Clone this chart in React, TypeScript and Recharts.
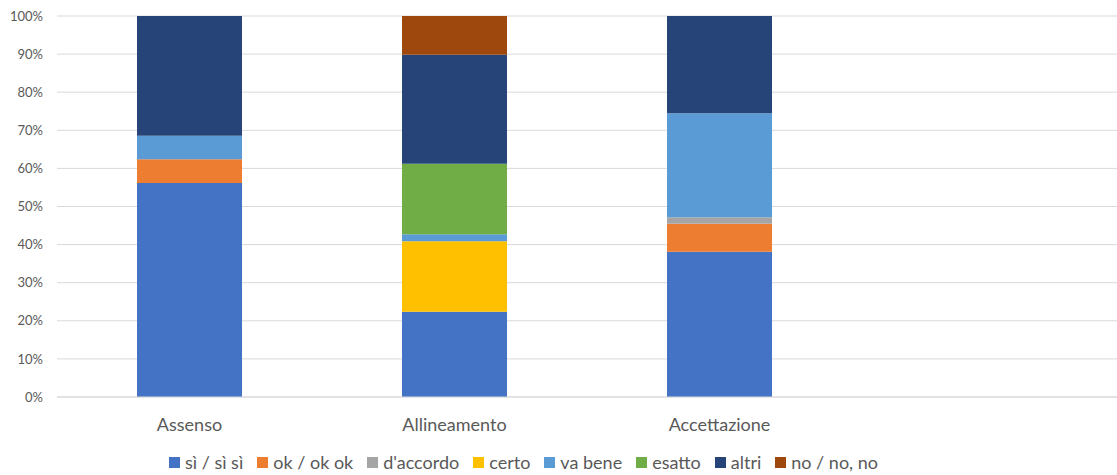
import React from 'react';
import { BarChart, Bar, XAxis, YAxis, CartesianGrid, Legend } from 'recharts';

// categories (the fourth slot is empty in the original chart)
const categories = ['Assenso', 'Allineamento', 'Accettazione', ''];

// series names, bottom to top of each stack
const seriesNames = ['sì / sì sì', 'ok / ok ok', "d'accordo", 'certo', 'va bene', 'esatto', 'altri', 'no / no, no'];

// percentage values per series, one per category
const siValues = [56.2, 22.4, 38.1, null];
const okValues = [6.2, 0, 7.4, null];
const accordoValues = [0, 0, 1.7, null];
const certoValues = [0, 18.5, 0, null];
const vaBeneValues = [6.2, 1.8, 27.3, null];
const esattoValues = [0, 18.5, 0, null];
const altriValues = [31.4, 28.6, 25.5, null];
const noValues = [0, 10.2, 0, null];

const yTicks = [0, 10, 20, 30, 40, 50, 60, 70, 80, 90, 100];

const seriesValues = [siValues, okValues, accordoValues, certoValues, vaBeneValues, esattoValues, altriValues, noValues];
const colors = ['#4472C4', '#ED7D31', '#A5A5A5', '#FFC000', '#5B9BD5', '#70AD47', '#264478', '#9E480E'];

const data = categories.map((name, i) => {
  const row: { [key: string]: string | number | null } = { name };
  seriesNames.forEach((s, j) => {
    row[s] = seriesValues[j][i];
  });
  return row;
});

const FONT = 'Lato, sans-serif';

// legend drawn as one centred row, like the original
const renderLegend = () => (
  <div
    style={{
      display: 'flex',
      justifyContent: 'center',
      alignItems: 'center',
      fontFamily: FONT,
      fontSize: 18,
      color: '#595959',
      paddingTop: 14,
      paddingRight: 70,
    }}
  >
    {seriesNames.map((s, i) => (
      <span key={s} style={{ display: 'flex', alignItems: 'center', marginRight: i < seriesNames.length - 1 ? 14 : 0 }}>
        <span style={{ width: 11, height: 11, background: colors[i], display: 'inline-block', marginRight: 5 }} />
        {s}
      </span>
    ))}
  </div>
);

const App: React.FC = () => {
  return (
    <div style={{ position: 'absolute', left: 0, top: 0 }}>
      <BarChart
        width={1117}
        height={475}
        data={data}
        margin={{ top: 16, right: 0, left: 0, bottom: 0 }}
        barSize={105}
      >
        <CartesianGrid vertical={false} stroke="#D9D9D9" />
        <XAxis
          dataKey="name"
          height={40}
          axisLine={{ stroke: '#D9D9D9' }}
          tickLine={false}
          tickMargin={15}
          tick={{ fill: '#595959', fontSize: 18, fontFamily: FONT }}
        />
        <YAxis
          width={57}
          domain={[0, 100]}
          ticks={yTicks}
          axisLine={false}
          tickLine={false}
          tickSize={0}
          tickMargin={14}
          tickFormatter={(v) => `${v}%`}
          tick={{ fill: '#595959', fontSize: 13, fontFamily: FONT }}
        />
        <Legend verticalAlign="bottom" height={38} content={renderLegend} />
        {seriesNames.map((s, i) => (
          <Bar key={s} dataKey={s} stackId="1" fill={colors[i]} isAnimationActive={false} />
        ))}
      </BarChart>
    </div>
  );
};

export default App;
